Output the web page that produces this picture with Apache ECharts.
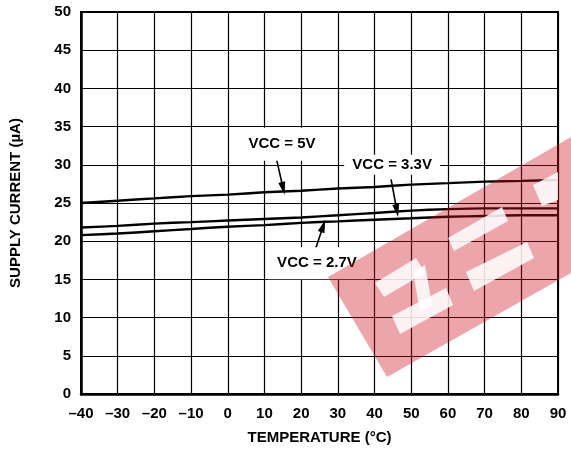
<!DOCTYPE html>
<html>
<head>
<meta charset="utf-8">
<script src="https://cdn.jsdelivr.net/npm/echarts@6/dist/echarts.min.js"></script>
<style>
  html, body { margin: 0; padding: 0; background: #fff; }
  #chart { width: 571px; height: 450px; }
</style>
</head>
<body>
<div id="chart"></div>
<script>
// Corrente de alimentação x temperatura
const temps = [-40, -30, -20, -10, 0, 10, 20, 30, 40, 50, 60, 70, 80, 90];
const vcc5 = [25.0, 25.3, 25.6, 25.9, 26.1, 26.4, 26.6, 26.9, 27.1, 27.4, 27.6, 27.8, 27.9, 28.0];
const vcc33 = [21.8, 22.0, 22.3, 22.5, 22.7, 22.9, 23.1, 23.4, 23.7, 24.0, 24.2, 24.3, 24.3, 24.3];
const vcc27 = [20.8, 21.0, 21.3, 21.6, 21.9, 22.1, 22.4, 22.6, 22.8, 23.0, 23.2, 23.3, 23.4, 23.4];

// Rótulos das curvas (em coordenadas de dados)
const labelTexts = ['VCC = 5V', 'VCC = 3.3V', 'VCC = 2.7V'];
const labelAt = [[14.8, 32.7], [44.8, 30.0], [24.3, 17.1]];
const labelBox = [[88, 33], [96, 20], [98, 32]];
const arrowFrom = [[13.2, 30.9], [44.5, 28.1], [23.8, 18.8]];
const arrowTo = [[15.1, 26.9], [46.1, 24.0], [26.0, 22.0]];

const font = 'Liberation Sans, Arial, sans-serif';

function pairs(xs, ys) {
    return xs.map((x, i) => [x, ys[i]]);
}

const chartDom = document.getElementById('chart');
const myChart = echarts.init(chartDom);

const lineStyle = { color: '#000', width: 2.4 };
const white = 'rgba(255,255,255,0.85)';

const option = {
    animation: false,
    backgroundColor: '#fff',
    grid: {
        left: 81, right: 13, top: 12, bottom: 56,
        show: true,
        borderColor: '#000',
        borderWidth: 2
    },
    xAxis: {
        type: 'value',
        min: -40, max: 90, interval: 10,
        name: 'TEMPERATURE (°C)',
        nameLocation: 'middle',
        nameGap: 36,
        nameTextStyle: { fontFamily: font, fontWeight: 'bold', fontSize: 15, color: '#000' },
        axisLine: { show: true, onZero: false, lineStyle: { color: '#000', width: 2.5 } },
        axisTick: { show: false },
        axisLabel: {
            margin: 12,
            fontFamily: font, fontWeight: 'bold', fontSize: 15, color: '#000',
            formatter: v => (v < 0 ? '\u2013' + Math.abs(v) : String(v))
        },
        splitLine: { show: true, lineStyle: { color: '#000', width: 1.2 } }
    },
    yAxis: {
        type: 'value',
        min: 0, max: 50, interval: 5,
        name: 'SUPPLY CURRENT (µA)',
        nameLocation: 'middle',
        nameRotate: 90,
        nameGap: 58,
        nameTextStyle: { fontFamily: font, fontWeight: 'bold', fontSize: 15, color: '#000' },
        axisLine: { show: true, onZero: false, lineStyle: { color: '#000', width: 2.5 } },
        axisTick: { show: false },
        axisLabel: { margin: 10, fontFamily: font, fontWeight: 'bold', fontSize: 15, color: '#000' },
        splitLine: { show: true, lineStyle: { color: '#000', width: 1.2 } }
    },
    series: [
        {
            name: 'VCC = 5V', type: 'line', data: pairs(temps, vcc5),
            showSymbol: false, smooth: 0.3, lineStyle: lineStyle, silent: true,
            markPoint: {
                silent: true,
                data: labelTexts.map((t, i) => ({
                    coord: labelAt[i],
                    symbol: 'rect',
                    symbolSize: labelBox[i],
                    itemStyle: { color: '#fff' },
                    label: {
                        show: true, position: 'inside', formatter: t,
                        fontFamily: font, fontWeight: 'bold', fontSize: 15, color: '#000'
                    }
                }))
            },
            markLine: {
                silent: true,
                symbol: ['none', 'triangle'],
                symbolSize: [7, 13],
                label: { show: false },
                lineStyle: { color: '#000', width: 1.6, type: 'solid' },
                data: arrowFrom.map((p, i) => [{ coord: p }, { coord: arrowTo[i] }])
            }
        },
        {
            name: 'VCC = 3.3V', type: 'line', data: pairs(temps, vcc33),
            showSymbol: false, smooth: 0.3, lineStyle: lineStyle, silent: true
        },
        {
            name: 'VCC = 2.7V', type: 'line', data: pairs(temps, vcc27),
            showSymbol: false, smooth: 0.3, lineStyle: lineStyle, silent: true
        }
    ],
    // marca d'água vermelha por cima do gráfico
    graphic: [
        {
            type: 'polygon', z: 100, silent: true,
            shape: { points: [[328, 277], [571, 137], [571, 273], [387, 377]] },
            style: { fill: 'rgba(205,20,35,0.38)' }
        },
        {
            type: 'polygon', z: 101, silent: true,
            shape: { points: [[375, 283], [416, 258], [425, 273], [384, 297]] },
            style: { fill: white }
        },
        {
            type: 'polygon', z: 101, silent: true,
            shape: { points: [[413, 272], [425, 265], [432, 305], [420, 312]] },
            style: { fill: white }
        },
        {
            type: 'polygon', z: 101, silent: true,
            shape: { points: [[392, 316], [446, 288], [453, 305], [400, 334]] },
            style: { fill: white }
        },
        {
            type: 'polygon', z: 101, silent: true,
            shape: { points: [[448, 238], [502, 207], [508, 221], [454, 251]] },
            style: { fill: white }
        },
        {
            type: 'polygon', z: 101, silent: true,
            shape: { points: [[466, 272], [527, 242], [534, 258], [474, 291]] },
            style: { fill: white }
        },
        {
            type: 'polygon', z: 101, silent: true,
            shape: { points: [[533, 185], [558, 172], [558, 200], [542, 206]] },
            style: { fill: white }
        }
    ]
};

myChart.setOption(option);
</script>
</body>
</html>
